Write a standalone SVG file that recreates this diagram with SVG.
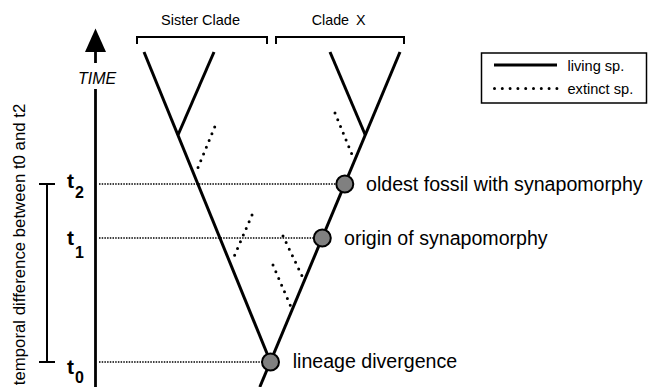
<svg xmlns="http://www.w3.org/2000/svg" width="648" height="387" viewBox="0 0 648 387">
<style>
text{font-family:"Liberation Sans",Arial,sans-serif;fill:#000}
.br{fill:none;stroke:#000;stroke-width:2}
.tree{fill:none;stroke:#000;stroke-width:3;stroke-linecap:butt}
.ext{fill:none;stroke:#000;stroke-width:3;stroke-linecap:round;stroke-dasharray:0 7.3}
.hd{fill:none;stroke:#000;stroke-width:1.4;stroke-dasharray:1.5 1.2}
.node{fill:#808080;stroke:#000;stroke-width:2}
.lab{font-size:19.6px}
.tl{font-size:21px;font-weight:bold}
.ts{font-size:16px;font-weight:bold}
</style>
<rect width="648" height="387" fill="#fff"/>
<g id="time-axis">
<polygon points="95.5,28.5 85,52 106,52" fill="#000"/>
<line x1="95.5" y1="51" x2="95.5" y2="63" stroke="#000" stroke-width="2.8"/>
<line x1="95.5" y1="89" x2="95.5" y2="387" stroke="#000" stroke-width="2.8"/>
<text x="78" y="84.3" font-size="16" font-style="italic">TIME</text>
</g>
<g id="sister-clade-label">
<path class="br" d="M137,44 V37 H267 V44"/>
<text x="161" y="25" font-size="14.5">Sister Clade</text>
</g>
<g id="clade-x-label">
<path class="br" d="M276,44 V37 H404 V44"/>
<text x="311.7" y="25" font-size="14.3">Clade</text>
<text x="356" y="25" font-size="14.3">X</text>
</g>
<g id="legend">
<rect x="481.5" y="53" width="165" height="50" fill="#fff" stroke="#000" stroke-width="1.5"/>
<line x1="494" y1="65" x2="557" y2="65" stroke="#000" stroke-width="3"/>
<line class="ext" x1="494.5" y1="88.5" x2="557" y2="88.5" style="stroke-dasharray:0 7.8"/>
<text x="567.5" y="71" font-size="14.6">living sp.</text>
<text x="567.5" y="94" font-size="14.6">extinct sp.</text>
</g>
<g id="time-range">
<path class="br" d="M39,184 H55 M47,184 V362 M39,362 H55"/>
<text transform="translate(25,244.5) rotate(-90)" text-anchor="middle" font-size="16.8">temporal difference between t0 and t2</text>
</g>
<g id="time-labels">
<text x="67" y="188" class="tl">t</text><text x="75" y="198" class="ts">2</text>
<text x="67" y="245" class="tl">t</text><text x="75" y="258" class="ts">1</text>
<text x="67" y="374" class="tl">t</text><text x="75" y="383" class="ts">0</text>
</g>
<g id="connectors">
<line class="hd" x1="99" y1="184" x2="337" y2="184"/>
<line class="hd" x1="99" y1="238" x2="314" y2="238"/>
<line class="hd" x1="99" y1="362" x2="262" y2="362"/>
<line class="tree" x1="144" y1="52" x2="270.5" y2="362"/>
<line class="tree" x1="214" y1="52" x2="178" y2="135"/>
<line class="tree" x1="259.8" y1="387" x2="400" y2="52"/>
<line class="tree" x1="330" y1="52" x2="365.3" y2="135"/>
<line class="ext" x1="214.7" y1="127" x2="197.7" y2="168.3"/>
<line class="ext" x1="335" y1="113" x2="353" y2="157"/>
<line class="ext" x1="252" y1="215" x2="233" y2="259"/>
<line class="ext" x1="283" y1="236" x2="303" y2="278"/>
<line class="ext" x1="273" y1="265" x2="291" y2="307"/>
</g>
<g id="oldest-fossil">
<circle class="node" cx="344.8" cy="184" r="8.5"/>
<text class="lab" x="366" y="191">oldest fossil with synapomorphy</text>
</g>
<g id="origin-synapomorphy">
<circle class="node" cx="322.3" cy="238" r="8.5"/>
<text class="lab" x="344" y="245">origin of synapomorphy</text>
</g>
<g id="lineage-divergence">
<circle class="node" cx="270.5" cy="362" r="8.5"/>
<text class="lab" x="292.7" y="368.3">lineage divergence</text>
</g>
</svg>
